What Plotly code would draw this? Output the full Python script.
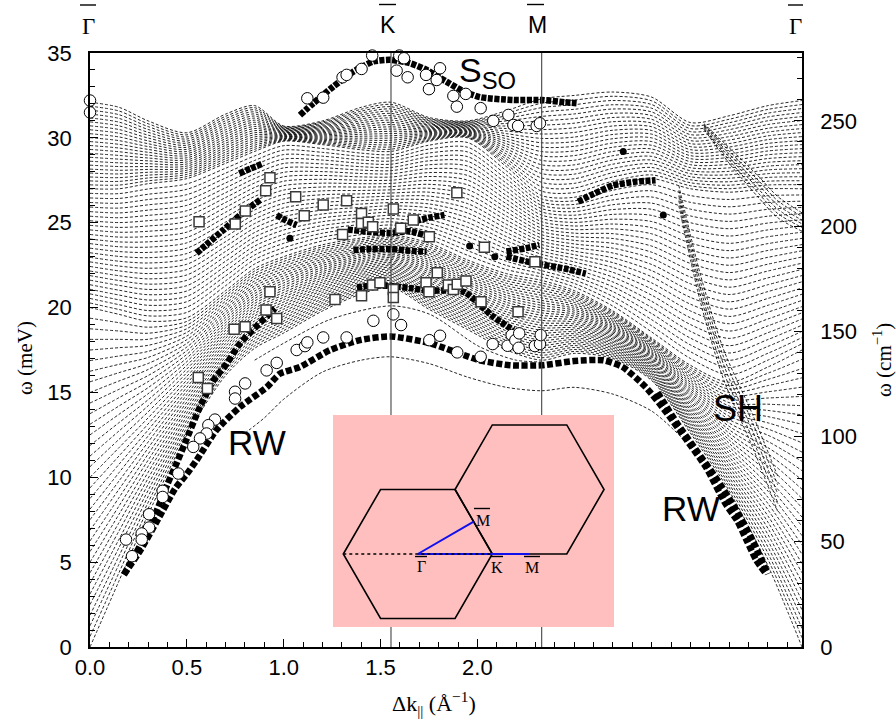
import plotly.graph_objects as go

# ---------------- geometry of the page ----------------
W, H = 896, 725
L_PX, R_PX, T_PX, B_PX = 90, 802, 53, 647


def xp(px):
    return (px - L_PX) / (R_PX - L_PX)


def yp(py):
    return (B_PX - py) / (B_PX - T_PX)


# ---------------- axes / symmetry points ----------------
K_PT = 1.554
M_PT = 2.332
G_END = 3.676
MEV_TO_CM = 8.0655
Y_MAX = 35.0

x_tick_vals = [0.0, 0.5, 1.0, 1.5, 2.0]
x_tick_text = ["0.0", "0.5", "1.0", "1.5", "2.0"]
y_tick_vals = [0, 5, 10, 15, 20, 25, 30, 35]
y2_tick_vals = [0, 50, 100, 150, 200, 250]

# ---------------- bulk band guide curves (meV) ----------------
kp = [0, 0.15, 0.3, 0.5, 0.7, 0.85, 1.0, 1.2, 1.4, 1.554, 1.75, 1.95, 2.15,
      2.332, 2.5, 2.7, 2.9, 3.1, 3.3, 3.5, 3.676]
bulk_low = [0, 3.9, 7.8, 12.5, 16.0, 17.6, 18.5, 19.8, 20.8, 21.2, 19.9, 18.7,
            17.5, 16.9, 17.3, 17.0, 15.7, 12.6, 9.2, 4.8, 0]
bulk_mid1 = [20.0, 19.6, 19.2, 19.4, 21.0, 22.3, 23.0, 23.7, 24.1, 24.3, 23.8,
             22.8, 22.0, 21.6, 21.0, 19.8, 18.2, 16.6, 15.6, 16.5, 17.5]
bulk_mid2 = [27.0, 27.0, 27.3, 27.6, 28.5, 29.2, 29.8, 29.6, 29.3, 29.2, 29.8,
             30.0, 28.3, 26.6, 26.5, 27.2, 27.6, 27.0, 26.8, 27.0, 27.0]
bulk_top = [32.1, 31.8, 31.0, 30.3, 31.4, 31.9, 30.7, 31.0, 31.8, 32.1, 31.2,
            31.0, 31.6, 32.3, 32.5, 32.7, 32.4, 30.9, 31.3, 31.9, 32.2]
band_counts = [32, 26, 22]

# shear-horizontal bundle (M -> Gamma) and the bundle below the top dip
sh_k = [3.04, 3.15, 3.27, 3.42, 3.55]
sh_left = [26.0, 20.4, 15.8, 11.8, 8.0]
sh_right = [27.5, 22.4, 18.0, 14.2, 10.6]
sh_count = 5
dip_k = [3.17, 3.3, 3.45, 3.55, 3.676]
dip_low = [30.5, 28.5, 26.5, 25.3, 24.5]
dip_high = [30.9, 29.6, 28.0, 26.8, 25.8]
dip_count = 6

# isolated dashed bulk lines below the continuum
d1_k = [0.85, 1.0, 1.24, 1.554, 1.755, 2.01, 2.2, 2.332]
d1_w = [16.9, 17.9, 19.3, 20.1, 19.6, 17.7, 16.9, 16.8]
d2_k = [0.8, 0.9, 1.0, 1.2, 1.4, 1.554, 1.75, 1.95, 2.15, 2.332, 2.5, 2.7,
        2.9, 3.05]
d2_w = [12.6, 13.5, 14.6, 16.2, 16.9, 17.1, 16.7, 15.9, 15.3, 15.1, 15.3,
        14.9, 13.9, 12.4]

# ---------------- calculated surface modes (filled circles) ----------------
rw_k = [0.175, 0.26, 0.35, 0.44, 0.5, 0.55, 0.654, 0.775, 0.912, 0.98, 1.084,
        1.24, 1.40, 1.554, 1.755, 2.01, 2.17, 2.332, 2.5, 2.65, 2.75, 2.87,
        2.98, 3.08, 3.18, 3.28, 3.34, 3.39, 3.44, 3.49]
rw_w = [4.27, 5.7, 7.5, 9.34, 10.2, 11.0, 12.8, 14.15, 15.3, 16.1, 16.5, 17.5,
        18.1, 18.3, 17.9, 16.9, 16.6, 16.6, 16.85, 16.9, 16.5, 15.3, 13.76,
        12.2, 10.6, 8.46, 7.47, 6.29, 5.11, 4.33]
rw2_k = [2.93, 3.03, 3.13, 3.23, 3.33, 3.42, 3.50]
rw2_w = [15.0, 13.2, 11.6, 10.0, 8.2, 6.3, 4.3]
lr_k = [0.175, 0.26, 0.336, 0.40, 0.45, 0.49, 0.568, 0.637, 0.706, 0.775,
        0.86, 0.955]
lr_w = [4.27, 6.0, 7.8, 9.6, 10.9, 12.0, 14.15, 15.7, 16.7, 17.9, 18.9, 19.95]
sso_k = [1.084, 1.153, 1.256, 1.359, 1.463, 1.549, 1.652, 1.738, 1.842, 1.919,
         2.013, 2.186, 2.332, 2.45, 2.512]
sso_w = [31.34, 32.04, 33.02, 33.9, 34.5, 34.6, 34.4, 34.0, 33.3, 32.8, 32.4,
         32.23, 32.23, 32.1, 32.04]
row_a_k = [0.55, 0.60, 0.688, 0.78, 0.878]
row_a_w = [23.2, 23.7, 24.57, 25.5, 26.34]
row_b_k = [0.771, 0.83, 0.895]
row_b_w = [27.9, 28.2, 28.5]
row_c_k = [0.964, 1.01, 1.067]
row_c_w = [25.45, 25.15, 24.86]
row_d_k = [1.36, 1.45, 1.554, 1.65, 1.738]
row_d_w = [23.39, 23.45, 23.45, 23.35, 23.29]
row_e_k = [1.33, 1.45, 1.554, 1.65, 1.72]
row_e_w = [24.6, 24.45, 24.4, 24.5, 24.3]
row_f_k = [1.68, 1.75, 1.83]
row_f_w = [25.1, 25.3, 25.45]
row_g_k = [1.378, 1.47, 1.554, 1.65, 1.75, 1.85, 1.936, 2.01, 2.082, 2.186]
row_g_w = [21.19, 21.3, 21.27, 21.15, 21.0, 21.0, 20.9, 20.2, 19.46, 18.67]
row_h_k = [2.15, 2.25, 2.32]
row_h_w = [23.3, 23.5, 23.7]
row_i_k = [2.15, 2.30, 2.45, 2.56]
row_i_w = [23.0, 22.6, 22.3, 22.0]
row_j_k = [2.52, 2.6, 2.7, 2.82, 2.92]
row_j_w = [26.24, 26.7, 27.2, 27.42, 27.5]
dot_k = [1.032, 1.96, 2.09, 2.753, 2.96]
dot_w = [24.08, 23.63, 23.0, 29.19, 25.45]

# ---------------- measured points ----------------
circ_k = [0, 0, 1.122, 1.204, 1.304, 1.325, 1.402, 1.457, 1.597, 1.621, 1.583,
          1.64, 1.735, 1.807, 1.79, 1.75, 1.876, 1.94, 1.894, 2.017, 2.082,
          2.16, 2.186, 2.21, 2.306, 2.323,
          1.067, 1.11, 1.122, 1.204, 1.325, 1.463, 1.566, 1.606, 1.752, 1.807,
          1.896, 2.017, 2.079, 2.156, 2.177, 2.196, 2.216, 2.213, 2.297, 2.323,
          2.327,
          0.964, 0.912, 0.801, 0.749, 0.749, 0.645, 0.611, 0.602, 0.568, 0.533,
          0.456, 0.375, 0.375, 0.305, 0.305, 0.267, 0.267, 0.186, 0.217]
circ_w = [32.2, 31.5, 32.33, 32.37, 33.57, 33.71, 34.06, 34.85, 34.85, 34.69,
          33.96, 33.57, 33.71, 34.1, 33.41, 32.87, 32.47, 32.59, 31.84, 31.75,
          31.0, 31.35, 30.76, 30.7, 30.7, 30.86,
          17.5, 17.73, 17.95, 18.24, 18.24, 19.22, 19.6, 18.97, 18.08, 18.34,
          17.36, 17.1, 17.85, 17.75, 18.38, 18.08, 18.48, 17.63, 17.73, 17.85,
          18.38,
          16.74, 16.3, 15.53, 15.04, 14.64, 13.4, 13.07, 12.58, 12.29, 11.79,
          10.22, 9.2, 8.84, 7.82, 7.04, 6.69, 6.33, 6.33, 5.35]
sq_k = [0.563, 0.75, 0.802, 0.907, 0.929, 1.062, 1.204, 1.325, 1.106, 1.402,
        1.402, 1.437, 1.459, 1.304, 0.929, 0.909, 0.964, 0.744, 0.801, 1.265,
        1.402, 1.459, 0.559, 0.606, 1.566, 1.669, 1.604, 1.752, 1.894, 2.036,
        2.297, 1.793, 1.735, 1.75, 1.85, 1.876, 1.896, 1.941, 2.019, 2.21,
        1.566, 1.566, 1.497]
sq_w = [25.06, 24.92, 25.69, 26.89, 27.65, 26.53, 26.04, 26.3, 25.41, 25.55,
        24.96, 25.02, 24.76, 24.31, 20.93, 19.85, 19.36, 18.73, 18.87, 20.48,
        20.7, 21.33, 15.88, 15.23, 25.81, 25.16, 24.67, 24.17, 26.77, 23.55,
        22.7, 22.05, 21.46, 20.93, 21.33, 21.07, 21.37, 21.56, 20.34, 19.75,
        21.07, 20.6, 21.46]

# ---------------- inset (Brillouin zone), units of the zone radius ----------
hexL_x = [-1, -0.5, 0.5, 1, 0.5, -0.5]
hexL_y = [0, 0.866, 0.866, 0, -0.866, -0.866]
hexR_x = [0.5, 1, 2, 2.5, 2, 1]
hexR_y = [0.866, 1.732, 1.732, 0.866, 0, 0]
path_GM_x = [0, 0.75]
path_GM_y = [0, 0.433]
path_GKM_x = [0, 1.5]
path_GKM_y = [0, 0]
dotted_x = [-1, 1]
dotted_y = [0, 0]

fig = go.Figure()

# bulk continuum: families of dotted lines between guide curves
bulk_line = dict(color="black", width=0.85, dash="3px,2px", shape="spline",
                 smoothing=0.8)


def family(xs, lo, hi, n, include_top=False):
    m = n + 1 if include_top else n
    for i in range(m):
        t = i / n
        fig.add_trace(go.Scatter(
            x=xs, y=[a + t * (b - a) for a, b in zip(lo, hi)], mode="lines",
            line=bulk_line, hoverinfo="skip", showlegend=False))


guides = [bulk_low, bulk_mid1, bulk_mid2, bulk_top]
for gi in range(3):
    family(kp, guides[gi], guides[gi + 1], band_counts[gi], include_top=(gi == 2))
family(sh_k, sh_left, sh_right, sh_count)
family(dip_k, dip_low, dip_high, dip_count)
for xs, ys in [(d1_k, d1_w), (d2_k, d2_w)]:
    fig.add_trace(go.Scatter(x=xs, y=ys, mode="lines", line=bulk_line,
                             hoverinfo="skip", showlegend=False))


# filled circle rows
def row(xs, ys, width=6.5, dash="6px,2.5px"):
    fig.add_trace(go.Scatter(
        x=xs, y=ys, mode="lines",
        line=dict(color="black", width=width, dash=dash, shape="spline",
                  smoothing=0.6),
        hoverinfo="skip", showlegend=False))


row(rw_k, rw_w)
row(rw2_k, rw2_w)
row(lr_k, lr_w)
row(sso_k, sso_w, 6.5, "5px,1.5px")
for xs, ys in [(row_a_k, row_a_w), (row_b_k, row_b_w), (row_c_k, row_c_w),
               (row_d_k, row_d_w), (row_e_k, row_e_w), (row_f_k, row_f_w),
               (row_g_k, row_g_w), (row_h_k, row_h_w), (row_i_k, row_i_w),
               (row_j_k, row_j_w)]:
    row(xs, ys, 6.5, "5px,1.5px")
fig.add_trace(go.Scatter(x=dot_k, y=dot_w, mode="markers",
                         marker=dict(color="black", size=7),
                         hoverinfo="skip", showlegend=False))

# measured points
fig.add_trace(go.Scatter(
    x=sq_k, y=sq_w, mode="markers",
    marker=dict(symbol="square", size=10, color="white",
                line=dict(color="#3a3a3a", width=1.5)),
    hoverinfo="skip", showlegend=False, cliponaxis=False))
fig.add_trace(go.Scatter(
    x=circ_k, y=circ_w, mode="markers",
    marker=dict(symbol="circle", size=11.5, color="white",
                line=dict(color="black", width=1)),
    hoverinfo="skip", showlegend=False, cliponaxis=False))

# dummy trace for the right axis
fig.add_trace(go.Scatter(x=[0], y=[0], yaxis="y2", mode="markers",
                         marker=dict(opacity=0), hoverinfo="skip",
                         showlegend=False))
# dummy trace for the inset axes
fig.add_trace(go.Scatter(x=[0], y=[0], xaxis="x3", yaxis="y3", mode="markers",
                         marker=dict(opacity=0), hoverinfo="skip",
                         showlegend=False))

SANS = "Liberation Sans, Arial, sans-serif"
SERIF = "Liberation Serif, Times New Roman, serif"
tickfont = dict(family=SANS, size=22, color="black")

R_IN = 74.5
G_PX, G_PY = 417.8, 554.0
x3_range = [(333 - G_PX) / R_IN, (614 - G_PX) / R_IN]
y3_range = [(G_PY - 627) / R_IN, (G_PY - 415) / R_IN]

fig.update_layout(
    width=W, height=H,
    margin=dict(l=L_PX, r=W - R_PX, t=T_PX, b=H - B_PX),
    paper_bgcolor="white", plot_bgcolor="white",
    showlegend=False,
    xaxis=dict(range=[0, G_END], tickmode="array", tickvals=x_tick_vals,
               ticktext=x_tick_text, ticks="inside", ticklen=8, tickwidth=1.3,
               tickcolor="black", showline=True, linecolor="black",
               linewidth=1.8, mirror=True, showgrid=False, zeroline=False,
               tickfont=tickfont, ticklabelstandoff=0,
               minor=dict(tick0=0, dtick=0.1, ticks="inside", ticklen=5,
                          tickwidth=1, tickcolor="black", showgrid=False)),
    yaxis=dict(range=[0, Y_MAX], tickmode="array", tickvals=y_tick_vals,
               ticks="inside", ticklen=8, tickwidth=1.3, tickcolor="black",
               showline=True, linecolor="black", linewidth=1.8, mirror=True,
               showgrid=False, zeroline=False, tickfont=tickfont,
               ticklabelstandoff=12,
               minor=dict(tick0=0, dtick=1, ticks="inside", ticklen=5,
                          tickwidth=1, tickcolor="black", showgrid=False)),
    yaxis2=dict(range=[0, Y_MAX * MEV_TO_CM], overlaying="y", side="right",
                tickmode="array", tickvals=y2_tick_vals, ticks="inside",
                ticklen=8, tickwidth=1.3, tickcolor="black", showline=True,
                linecolor="black", linewidth=1.8, showgrid=False,
                zeroline=False, tickfont=tickfont, ticklabelstandoff=12,
                minor=dict(tick0=0, dtick=10, ticks="inside", ticklen=5,
                           tickwidth=1, tickcolor="black", showgrid=False)),
    xaxis3=dict(domain=[xp(333), xp(614)], range=x3_range, visible=False,
                anchor="y3", fixedrange=True),
    yaxis3=dict(domain=[yp(627), yp(415)], range=y3_range, visible=False,
                anchor="x3", fixedrange=True),
)


def poly_path(xs, ys):
    return "M " + " L ".join(f"{x},{y}" for x, y in zip(xs, ys)) + " Z"


shapes = [
    dict(type="line", xref="x", yref="paper", x0=K_PT, x1=K_PT, y0=0, y1=1,
         line=dict(color="#444444", width=1.1), layer="above"),
    dict(type="line", xref="x", yref="paper", x0=M_PT, x1=M_PT, y0=0, y1=1,
         line=dict(color="#444444", width=1.1), layer="above"),
    # inset
    dict(type="rect", xref="x3 domain", yref="y3 domain", x0=0, x1=1, y0=0,
         y1=1, fillcolor="#ffbfbf", line=dict(width=0), layer="above"),
    dict(type="path", xref="x3", yref="y3", path=poly_path(hexL_x, hexL_y),
         line=dict(color="black", width=1.6), layer="above"),
    dict(type="path", xref="x3", yref="y3", path=poly_path(hexR_x, hexR_y),
         line=dict(color="black", width=1.6), layer="above"),
    dict(type="line", xref="x3", yref="y3", x0=path_GM_x[0], x1=path_GM_x[1],
         y0=path_GM_y[0], y1=path_GM_y[1],
         line=dict(color="#1010ee", width=2), layer="above"),
    dict(type="line", xref="x3", yref="y3", x0=path_GKM_x[0],
         x1=path_GKM_x[1], y0=path_GKM_y[0], y1=path_GKM_y[1],
         line=dict(color="#1010ee", width=2), layer="above"),
    dict(type="line", xref="x3", yref="y3", x0=dotted_x[0], x1=dotted_x[1],
         y0=dotted_y[0], y1=dotted_y[1],
         line=dict(color="black", width=1.4, dash="dot"), layer="above"),
]
# overlines of the symmetry-point labels (pixel spans)
overlines = [(80, 96, 5), (379, 396, 4.5), (527, 544, 4.5), (788, 803, 5),
             (474, 490, 508.5), (415, 427, 556.5), (490, 503, 556.5),
             (524, 540, 556.5)]
for a, b, y in overlines:
    shapes.append(dict(type="line", xref="paper", yref="paper", x0=xp(a),
                       x1=xp(b), y0=yp(y), y1=yp(y),
                       line=dict(color="black", width=1.4), layer="above"))
fig.update_layout(shapes=shapes)

ann = []


def text(px, py, s, size, family, angle=0, xanchor="center", yanchor="middle"):
    ann.append(dict(x=xp(px), y=yp(py), xref="paper", yref="paper", text=s,
                    showarrow=False, textangle=angle, xanchor=xanchor,
                    yanchor=yanchor, font=dict(family=family, size=size,
                                               color="black")))


text(88, 26, "Γ", 23, SERIF)
text(387.5, 25, "K", 23, SANS)
text(537, 25, "M", 23, SANS)
text(795.5, 26, "Γ", 23, SERIF)
text(25, 358, "ω (meV)", 21, SERIF, -90)
text(882, 360, "ω (cm<sup>−1</sup>)", 21, SERIF, -90)
text(434, 703, "Δk<sub>||</sub> (Å<sup>−1</sup>)", 22, SERIF)
text(457, 72, "S<sub>SO</sub>", 34, SANS, xanchor="left")
text(257, 442, "RW", 35, SANS)
text(691, 508, "RW", 35, SANS)
text(738, 408, "SH", 36, SANS)
text(483, 520, "M", 16, SERIF)
text(421, 566, "Γ", 16, SERIF)
text(497, 567, "K", 16, SERIF)
text(532, 567, "M", 16, SERIF)
fig.update_layout(annotations=ann)

fig.write_html("out.html",
               config={"displayModeBar": False},
               post_script="document.body.style.margin='0';"
                           "document.body.style.overflow='hidden';")
